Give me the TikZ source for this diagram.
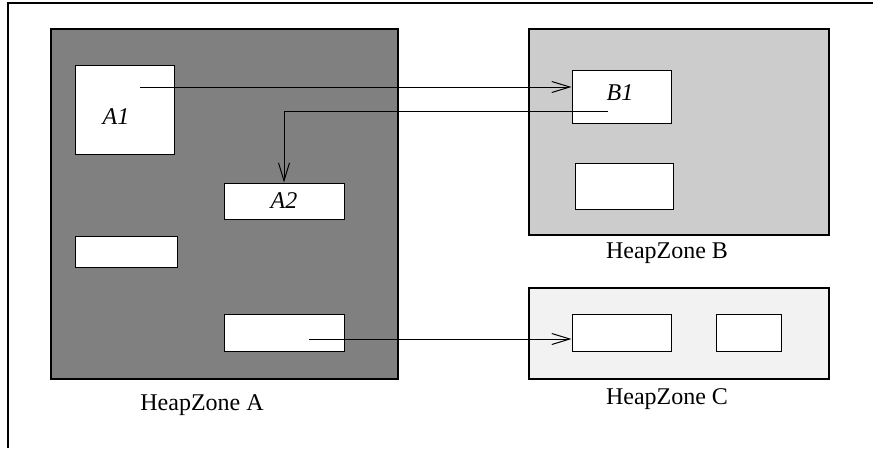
\documentclass[tikz,border=0pt]{standalone}
\usepackage{fontspec}
\setmainfont{Liberation Serif}
\usepackage{tikz}
\usetikzlibrary{positioning}
\usetikzlibrary{arrows.meta}
\definecolor{zonea}{gray}{0.5}
\definecolor{zoneb}{gray}{0.8}
\definecolor{zonec}{gray}{0.95}
\tikzset {
  x=1pt, y=-1pt,
  font=\fontsize{24}{28}\selectfont,
  >={Straight Barb[length=18pt, width=11pt]},
  % heap zones
  zone/.style = {draw, line width=1.3pt, inner sep=0pt},
  % objects inside a zone
  obj/.style = {draw, fill=white, line width=1pt, inner sep=0pt},
  % object names
  tag/.style = {font=\fontsize{24}{28}\selectfont\itshape, inner sep=0pt},
  % references between objects
  ref/.style = {->, line width=1pt},
}

\begin{document}
\begin{tikzpicture}
        \useasboundingbox (0,0) rectangle (873,448);
        \coordinate (frame ne) at (873,3);
        \coordinate (frame sw) at (8,448);
        \draw [line width=1.2pt] (frame ne) -| (frame sw);

        \node[zone, fill=zonea, minimum width=347pt, minimum height=350pt] (A) at (224.5,204) {};
        \node[zone, fill=zoneb, minimum width=300pt, minimum height=206pt] (B) at (679,132) {};
        \node[zone, fill=zonec, minimum width=300pt, minimum height=91pt] (C) at (679,333.5) {};

        \node at (202,405) {HeapZone A};
        \node at (667,253) {HeapZone B};
        \node at (667,399) {HeapZone C};

        \node[obj, minimum width=99pt, minimum height=89pt] (a1) at (124.5,109.5) {};
        \node[obj, minimum width=120pt, minimum height=36pt] (a2) at (284,201) {};
        \node[obj, minimum width=102pt, minimum height=31pt] (a3) at (126,251.5) {};
        \node[obj, minimum width=120pt, minimum height=37pt] (a4) at (284,332.5) {};
        \node[obj, minimum width=99pt, minimum height=53pt] (b1) at (621.5,96.5) {};
        \node[obj, minimum width=98pt, minimum height=46pt] (b2) at (624,186) {};
        \node[obj, minimum width=99pt, minimum height=37pt] (c1) at (621.5,332.5) {};
        \node[obj, minimum width=65pt, minimum height=37pt] (c2) at (748.5,332.5) {};

        \node[tag] at (116,117) {A1};
        \node[tag] at (284,201) {A2};
        \node[tag] at (620,93) {B1};

        \coordinate (pa1) at (140,87);
        \coordinate (pb1) at (608,111);
        \coordinate (pa4) at (309,339);

        \draw [ref] (pa1) -- (pa1 -| b1.west);
        \draw [ref] (pb1) -| (a2.north);
        \draw [ref] (pa4) -- (pa4 -| c1.west);
      \end{tikzpicture}
\end{document}
